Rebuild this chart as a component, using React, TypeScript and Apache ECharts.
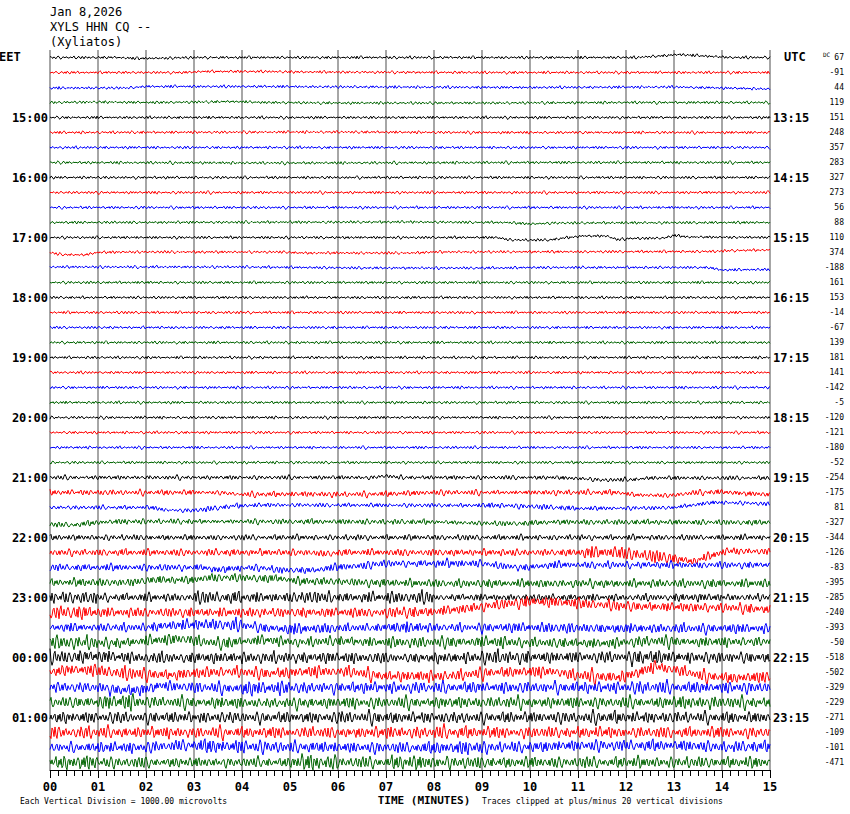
import React, { useEffect, useRef } from 'react';
import * as echarts from 'echarts';

const titleLines = ['Jan 8,2026', 'XYLS HHN CQ --', '(Xyliatos)'];
const leftHourLabels = ['15:00', '16:00', '17:00', '18:00', '19:00', '20:00', '21:00', '22:00', '23:00', '00:00', '01:00'];
const rightHourLabels = ['13:15', '14:15', '15:15', '16:15', '17:15', '18:15', '19:15', '20:15', '21:15', '22:15', '23:15'];
const dcValues = [
  67, -91, 44, 119, 151, 248, 357, 283, 327, 273, 56, 88, 110, 374, -188, 161,
  153, -14, -67, 139, 181, 141, -142, -5, -120, -121, -180, -52, -254, -175, 81, -327,
  -344, -126, -83, -395, -285, -240, -393, -50, -518, -502, -329, -229, -271, -109, -101, -471,
];
const traceColors = ['#000000', '#ff0000', '#0000ff', '#006400'];

// noise amplitude per minute (hex digit), one string per trace
const ampCodes = [
  '222222222222222', '222222222222222', '222222222222222', '222222222222222',
  '222222222222222', '222222222222222', '222222222222222', '222222222222222',
  '222222222222222', '222222222222222', '222222222222222', '222222222222222',
  '222222222222222', '222222222222222', '222222222222222', '222222222222222',
  '222222222222222', '222222222222222', '222222222222222', '222222222222222',
  '222222222222222', '222222222222222', '222222222222222', '222222222222222',
  '222222222222222', '222222222222222', '222222222222222', '222222222222222',
  '333333333333333', '444344444344344', '333433333443333', '444344443444444',
  '444444444444444', '555555555559a65', '555555656555555', '666666666666666',
  '966979795555565', 'a77777787888777', '667978686787777', 'a78877788877877',
  'a88888878a88a88', '8a8888888889888', '7888a8888888988', '8b8878888888898',
  '888888988889888', '988888899888888', '788a9888a888888', 'a8777b8a9888888',
];

// slow drift of each trace: [minute, offset px (up)]
const baselineKnots: number[][][] = [
  [[0, 0], [1.4, 0], [1.8, -1], [2.5, -0.5], [3, 0], [12.2, 0], [12.7, 1.5], [13.1, 3], [13.6, 1.5], [14.2, 0], [15, 0]],
  [[0, 0], [2.8, 0], [3.2, 1], [4.5, 1], [5.2, 0.5], [9, 0], [15, 0]],
  [[0, -0.5], [1.6, -0.5], [2, 1], [4, 1], [7, 0.5], [10, 0], [13, 0.5], [14.5, -1], [15, -1.5]],
  [[0, 0], [1, 0.5], [2, 0], [3.2, 0.5], [3.8, 1], [4.5, 0], [6, -0.5], [9, -0.5], [12, 0], [15, 0]],
  [[0, 0], [15, 0]],
  [[0, 0], [6, 0.5], [9, 0], [15, 0]],
  [[0, 0], [15, 0]],
  [[0, 0], [5, -0.5], [10, 0], [15, 0]],
  [[0, 0], [15, 0]],
  [[0, 0], [15, 0]],
  [[0, 0], [15, 0]],
  [[0, 0], [7.5, 0.5], [9.5, 0], [10, -1.5], [10.5, -0.5], [15, 0]],
  [[0, 0], [9.3, 0], [9.6, -2.5], [10.4, -2.5], [10.8, 0], [11.1, 1.5], [11.6, 1.5], [11.8, -2], [12.1, -1], [12.8, -0.5], [13, 2], [13.3, 0.5], [15, 0]],
  [[0, 0], [0.2, -2], [0.7, -2.5], [1, 0], [1.5, 0.5], [4.9, 0.5], [5.2, -0.5], [7.6, -0.5], [8, 0.5], [13.8, 1], [14.2, 2], [15, 2.5]],
  [[0, 0.5], [4, 0.5], [6.5, -0.5], [9.5, -0.5], [10, 0], [13.7, 0], [14, -2.5], [15, -2]],
  [[0, 0], [15, 0]],
  [[0, 0], [15, 0]],
  [[0, 0], [15, 0]],
  [[0, 0], [15, 0]],
  [[0, 0], [15, 0]],
  [[0, 0], [15, 0]],
  [[0, 0], [15, 0]],
  [[0, 0], [15, 0]],
  [[0, 0], [15, 0]],
  [[0, 0], [15, 0]],
  [[0, 0], [15, 0]],
  [[0, 0], [15, 0]],
  [[0, 0], [15, 0]],
  [[0, 0], [6.7, 0], [7, 1.5], [7.3, 0], [10.5, 0], [11, -1], [11.5, -2.5], [12.2, -2], [12.5, -0.5], [15, -0.5]],
  [[0, 0], [3.5, 0], [4, -2], [5.5, -1.5], [6, -2], [7, -1.5], [8, 0], [11.8, 0], [12.2, -2.5], [12.9, -3], [13.5, 0], [14, 0.5], [14.5, -1], [15, -2]],
  [[0, 0], [2.1, 0], [2.4, -2.5], [3, -3], [3.4, -1], [3.8, 1.5], [4.5, 2.5], [9.5, 2], [10.5, 0], [11, -1], [12.5, -0.5], [13, 0], [13.5, 3], [13.8, 5], [14.5, 4.5], [15, 3.5]],
  [[0, -2], [0.5, -2.5], [1, 0], [1.5, 1], [4, 1], [8, 0.5], [9.2, -1], [9.8, -1], [10.5, 0.5], [15, 0]],
  [[0, 0], [15, 0]],
  [[0, 0], [5.4, 0], [5.7, -1.5], [6.1, 0], [11.8, 0], [12.2, -2], [12.6, -4], [13, -6], [13.4, -9], [13.6, -6], [13.9, -1.5], [14.1, 1.5], [15, 1]],
  [[0, 0], [3.2, 0], [3.5, -2.5], [3.8, -1], [4.3, 0], [4.8, -2.5], [5.5, -3], [5.9, 0], [6.4, 1.5], [7, 4], [9, 4], [9.5, 1], [9.9, 0], [10.5, 2.5], [15, 2.5]],
  [[0, 0], [1.7, 0], [2.1, 2.5], [3, 2.5], [3.3, 5], [3.8, 5], [4.3, 4], [4.8, 4], [5.2, 1], [6, 1], [6.5, 0], [8, -1], [15, -1]],
  [[0, 0], [15, 0]],
  [[0, 0], [7.6, 0], [8, 1], [8.6, 3.5], [9.4, 8], [10, 11], [10.5, 10.5], [11, 9], [11.9, 6.5], [12.6, 5.5], [14, 5], [15, 3]],
  [[0, 0], [2, 0], [2.5, 2], [3.3, 3], [3.9, 2.5], [4.5, -0.5], [5, -2], [5.5, -1], [7, 0], [9.5, 0], [12, -1], [15, -1]],
  [[0, 0], [1.5, -0.5], [2.2, 2], [2.7, 4], [3.1, 1], [3.6, -1], [4, 1], [4.5, 2.5], [5.2, 0], [6, 1.5], [7, 0], [9, 0.5], [11.5, -1], [12.5, 1.5], [13.5, 0.5], [15, 1]],
  [[0, 0], [1, 1], [2, -0.5], [5, 0], [8, -0.5], [11, 0.5], [15, 0]],
  [[0, 0], [0.3, 2.5], [0.9, 2.5], [1.5, -1], [2.5, -2.5], [3.3, 0], [3.8, 1], [4.5, -1], [5.5, 1], [6.2, 1], [7, -4], [8.3, -3.5], [9.2, 0], [10.5, 1], [11, -3], [11.8, -5], [12.2, -1], [12.6, 6], [13, 3], [13.6, -3.5], [14.2, -5.5], [15, -4.5]],
  [[0, 0.5], [1, 0], [1.6, -3], [2, -2], [2.3, 2], [3, 0], [4, -1], [6, 0], [15, 0]],
  [[0, 0], [2, 0.5], [4, -0.5], [8, 0], [15, 0]],
  [[0, 0], [15, 0]],
  [[0, 0], [15, 0]],
  [[0, 0], [2, 0], [2.8, 2.5], [3.5, 1], [8, -0.5], [10, 0.5], [11, 2], [13, 2], [14, 0.5], [15, 1]],
  [[0, 0], [15, 0]],
];

// hand-typed texture of a seismic trace (unit peak amplitude)
const wiggle = [
  0.3, 0.6, -0.2, -0.5, 0.4, -0.3, -0.6, 0.2, 0.7, 0.4, -0.5, -0.8, -0.2, 0.5, 0.3, -0.4,
  0.6, 0.2, -0.35, -0.6, 0.25, 0.5, -0.45, 0.3, 0.8, -0.3, -0.7, -0.4, 0.35, 0.55, -0.25, -0.5,
  0.45, 0.2, -0.6, 0.3, 0.65, -0.2, -0.45, 0.5, -0.3, -0.55, 0.4, 0.9, 0.3, -0.6, -0.95, -0.3,
  0.4, 0.5, -0.25, -0.4, 0.35, -0.5, 0.6, 0.3, -0.35, -0.65, 0.2, 0.45, -0.3, 0.55, -0.4, -0.2,
  0.5, 0.75, -0.4, -0.6, 0.3, -0.25, 0.45, -0.5, -0.3, 0.6, 0.35, -0.45, -0.7, 0.25, 0.5, -0.35,
  0.4, 0.2, -0.55, 0.65, -0.3, -0.5, 0.35, 0.85, 0.4, -0.65, -0.4, 0.3, -0.25, 0.5, -0.45, 0.3,
  0.6, -0.35, -0.6, 0.45, 0.25, -0.4, 0.55, -0.3, -0.75, 0.4, 0.7, 0.2, -0.5, -0.3, 0.35, -0.45,
];
// hand-typed burst envelope (applied in 6-sample blocks)
const burst = [
  1.0, 1.3, 0.8, 0.7, 1.2, 1.4, 0.9, 0.6, 1.1, 1.3, 1.0, 0.7, 0.8,
  1.2, 1.4, 1.1, 0.9, 0.6, 0.8, 1.3, 1.2, 0.7, 1.0, 1.4, 0.9, 0.8,
  1.1, 0.6, 1.3, 1.0, 0.7, 1.2, 0.9, 1.4, 0.8, 1.1, 0.6,
];

const ROW_PX = 15;
const SAMPLES = 720;
const AMP_UNIT = 0.8;
const MONO = '"DejaVu Sans Mono", "Liberation Mono", monospace';

function baseAt(knots: number[][], t: number): number {
  for (let k = 0; k < knots.length - 1; k++) {
    const [t0, v0] = knots[k];
    const [t1, v1] = knots[k + 1];
    if (t >= t0 && t <= t1) return t1 === t0 ? v0 : v0 + ((v1 - v0) * (t - t0)) / (t1 - t0);
  }
  return knots[knots.length - 1][1];
}

function traceData(r: number): number[][] {
  const knots = baselineKnots[r];
  const code = ampCodes[r];
  const pts: number[][] = [];
  for (let i = 0; i <= SAMPLES; i++) {
    const t = (i * 15) / SAMPLES;
    const m = Math.min(14, Math.floor(t));
    const amp = parseInt(code[m] || '2', 16) * AMP_UNIT;
    const w = wiggle[(i + r * 37) % wiggle.length];
    const b = burst[(Math.floor(i / 6) + r * 11) % burst.length];
    pts.push([t, -r * ROW_PX + baseAt(knots, t) + amp * w * b]);
  }
  return pts;
}

export default function App() {
  const ref = useRef<HTMLDivElement>(null);
  useEffect(() => {
    if (!ref.current) return;
    const chart = echarts.init(ref.current, null, { renderer: 'svg' });
    const nRows = dcValues.length;
    const leftCats: string[] = [];
    const rightCats: string[] = [];
    for (let r = 0; r < nRows; r++) {
      const h = r % 4 === 0 && r > 0 ? r / 4 - 1 : -1;
      leftCats.push(h >= 0 ? leftHourLabels[h] : '');
      rightCats.push(h >= 0 ? rightHourLabels[h] : '');
    }
    const series = dcValues.map((_, r) => ({
      type: 'line',
      xAxisIndex: 0,
      yAxisIndex: 0,
      data: traceData(r),
      showSymbol: false,
      symbol: 'none',
      silent: true,
      z: 3,
      color: traceColors[r % 4],
      lineStyle: { color: traceColors[r % 4], width: 1 },
    }));
    const catAxisCommon = {
      type: 'category',
      inverse: true,
      boundaryGap: true,
      axisLine: { show: false },
      axisTick: { show: false },
      splitLine: { show: false },
    };
    const option: any = {
      animation: false,
      backgroundColor: '#ffffff',
      grid: { left: 50, right: 80, top: 50, bottom: 44, containLabel: false },
      xAxis: {
        type: 'value',
        min: 0,
        max: 15,
        interval: 1,
        axisLine: { show: true, onZero: false, lineStyle: { color: '#000', width: 1 } },
        axisTick: { show: true, length: 8, lineStyle: { color: '#000', width: 1 } },
        minorTick: { show: true, splitNumber: 6, length: 6, lineStyle: { color: '#000', width: 1 } },
        axisLabel: {
          formatter: (v: number) => String(v).padStart(2, '0'),
          color: '#000',
          fontFamily: MONO,
          fontSize: 12,
          fontWeight: 'bold',
          margin: 11,
        },
        splitLine: { show: true, lineStyle: { color: '#888888', width: 1.5 } },
      },
      yAxis: [
        { type: 'value', min: -(nRows - 0.5) * ROW_PX, max: 0.5 * ROW_PX, show: false },
        {
          ...catAxisCommon,
          position: 'left',
          data: leftCats,
          axisLabel: { interval: 0, margin: 2, color: '#000', fontFamily: MONO, fontSize: 12, fontWeight: 'bold' },
        },
        {
          ...catAxisCommon,
          position: 'right',
          data: rightCats,
          axisLabel: { interval: 0, margin: 3, color: '#000', fontFamily: MONO, fontSize: 12, fontWeight: 'bold' },
        },
        {
          ...catAxisCommon,
          position: 'right',
          offset: 75,
          data: dcValues.map((v) => String(v)),
          axisLabel: { interval: 0, inside: true, margin: 1, color: '#000', fontFamily: MONO, fontSize: 8 },
        },
      ],
      series,
      graphic: [
        ...titleLines.map((t, i) => ({
          type: 'text',
          x: 50,
          y: 12 + i * 15,
          style: { text: t, fill: '#000', font: `12px ${MONO}`, align: 'left', verticalAlign: 'middle' },
        })),
        { type: 'text', x: -1, y: 57, style: { text: 'EET', fill: '#000', font: `bold 12px ${MONO}`, align: 'left', verticalAlign: 'middle' } },
        { type: 'text', x: 784, y: 57, style: { text: 'UTC', fill: '#000', font: `bold 12px ${MONO}`, align: 'left', verticalAlign: 'middle' } },
        { type: 'text', x: 823, y: 54, style: { text: 'DC', fill: '#000', font: `6px ${MONO}`, align: 'left', verticalAlign: 'middle' } },
        { type: 'text', x: 424, y: 800, style: { text: 'TIME (MINUTES)', fill: '#000', font: `bold 11px ${MONO}`, align: 'center', verticalAlign: 'middle' } },
        { type: 'text', x: 20, y: 801, style: { text: 'Each Vertical Division = 1000.00 microvolts', fill: '#000', font: `8px ${MONO}`, align: 'left', verticalAlign: 'middle' } },
        { type: 'text', x: 482, y: 801, style: { text: 'Traces clipped at plus/minus 20 vertical divisions', fill: '#000', font: `8px ${MONO}`, align: 'left', verticalAlign: 'middle' } },
      ],
    };
    chart.setOption(option);
    return () => chart.dispose();
  }, []);
  return (
    <div
      ref={ref}
      style={{ position: 'absolute', left: 0, top: 0, width: 850, height: 814, background: '#ffffff' }}
    />
  );
}
